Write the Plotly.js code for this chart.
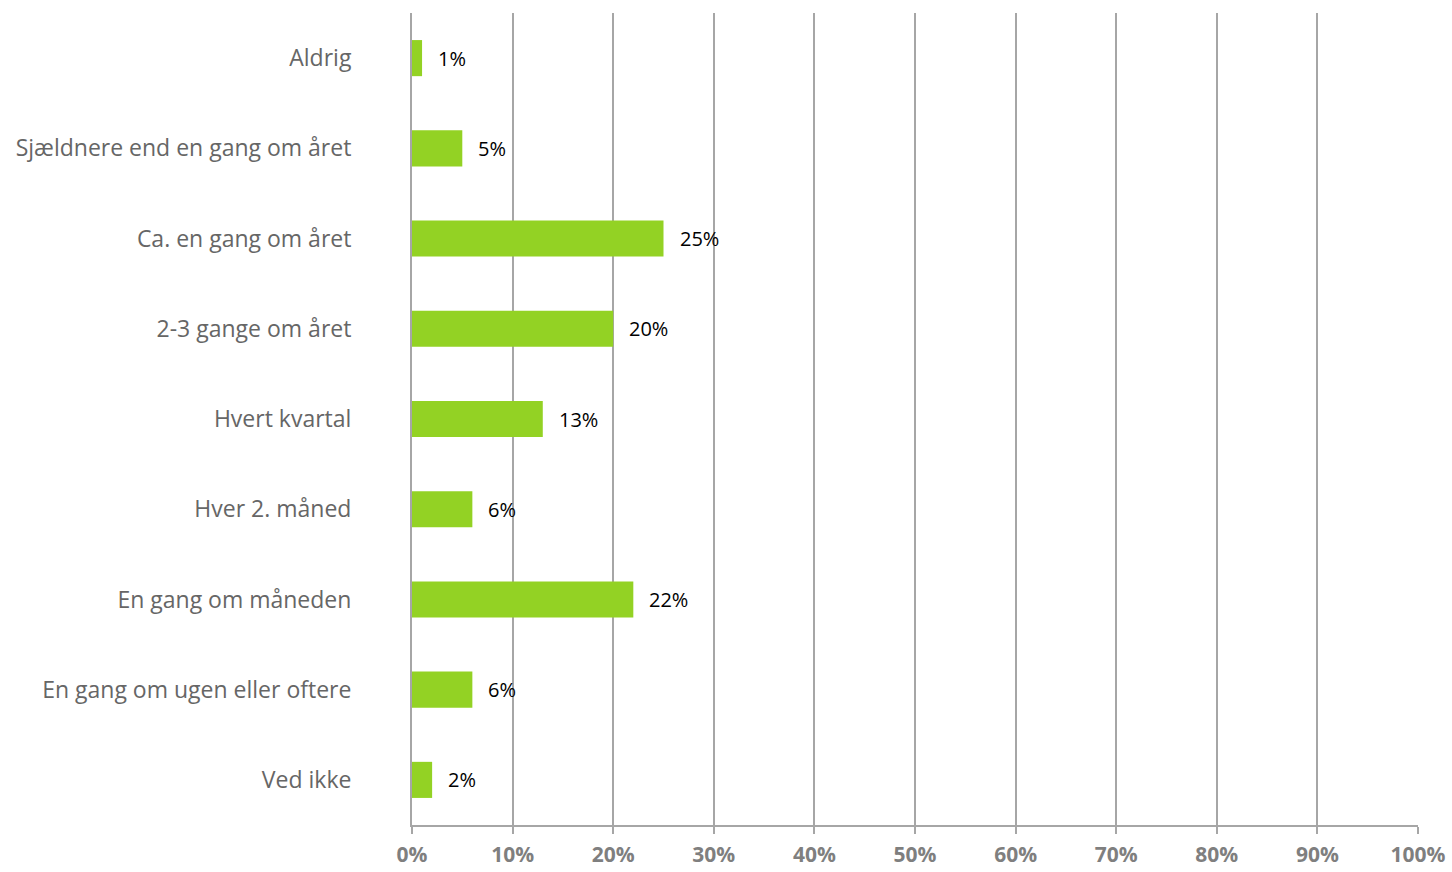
<!DOCTYPE html>
<html><head><meta charset="utf-8">
<script src="https://cdn.plot.ly/plotly-3.0.1.min.js"></script>
<style>html,body{margin:0;padding:0;background:#fff}#chart{width:1452px;height:872px}</style>
</head><body><div id="chart"></div>
<script>
const categories = ["Aldrig","Sjældnere end en gang om året","Ca. en gang om året","2-3 gange om året","Hvert kvartal","Hver 2. måned","En gang om måneden","En gang om ugen eller oftere","Ved ikke"];
const values = [1,5,25,20,13,6,22,6,2];
const tickVals = [0,10,20,30,40,50,60,70,80,90,100];
const tickLabels = tickVals.map(v => v + "%");

const trace = {
  type: "bar", orientation: "h",
  x: values, y: categories,
  marker: {color: "#93d224"},
  width: 0.4,
  hoverinfo: "none"
};
const annotations = values.map((v, i) => ({
  x: v, y: categories[i], xref: "x", yref: "y",
  text: v + "%", showarrow: false, xanchor: "left", xshift: 14,
  font: {family: "Open Sans, sans-serif", size: 20, color: "#000"}
}));
const layout = {
  width: 1452, height: 872,
  margin: {l: 412, r: 34, t: 13, b: 47},
  paper_bgcolor: "#fff", plot_bgcolor: "#fff",
  showlegend: false,
  font: {family: "Open Sans, sans-serif"},
  xaxis: {
    range: [0, 100], tickvals: tickVals, ticktext: tickLabels,
    showgrid: true, gridcolor: "#a6a6a6", gridwidth: 2,
    zeroline: false, showline: true, linecolor: "#a6a6a6", linewidth: 2,
    ticks: "outside", ticklen: 7, tickcolor: "#a6a6a6", tickwidth: 2,
    tickfont: {family: "Open Sans, sans-serif", size: 21, color: "#7f7f7f", weight: "bold"},
    ticklabelstandoff: 3, fixedrange: true
  },
  yaxis: {
    autorange: "reversed", showgrid: false, zeroline: false,
    showline: true, linecolor: "#a6a6a6", linewidth: 2,
    ticks: "", tickfont: {family: "Open Sans, sans-serif", size: 23, color: "#666666"},
    ticklabelstandoff: 54, fixedrange: true
  },
  annotations: annotations
};
Plotly.newPlot("chart", [trace], layout, {displayModeBar: false, staticPlot: true});
</script></body></html>
